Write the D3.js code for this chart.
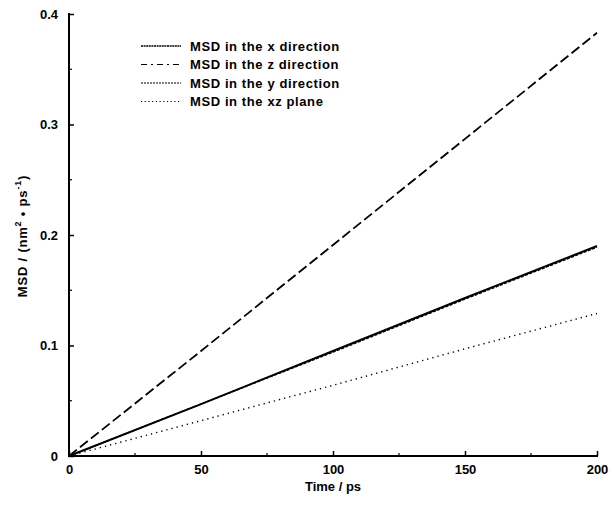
<!DOCTYPE html>
<html><head><meta charset="utf-8">
<script src="https://cdn.jsdelivr.net/npm/d3@7"></script>
<style>body{margin:0;background:#fff;} text{font-family:"Liberation Sans",Arial,sans-serif;font-weight:bold;fill:#000;}</style>
</head><body><svg id="c" width="612" height="507"></svg>
<script>
const times = [0, 50, 100, 150, 200];
const msdX  = [0, 0.047, 0.095, 0.143, 0.190];
const msdZ  = [0, 0.095, 0.191, 0.287, 0.383];
const msdY  = [0, 0.047, 0.094, 0.142, 0.189];
const msdXZ = [0, 0.032, 0.064, 0.097, 0.129];
const seriesNames = ["MSD in the x direction","MSD in the z direction","MSD in the y direction","MSD in the xz plane"];
const xTicks = [0, 50, 100, 150, 200];
const yTicks = [0, 0.1, 0.2, 0.3, 0.4];
const yTickLabels = ["0","0.1","0.2","0.3","0.4"];

const svg = d3.select("#c");
const x = d3.scaleLinear().domain([0,200]).range([69,597]);
const y = d3.scaleLinear().domain([0,0.4]).range([456,14]);

const series = [
  {name: seriesNames[0], vals: msdX, dash: null, w: 2},
  {name: seriesNames[1], vals: msdZ, dash: "10,4", w: 1.8},
  {name: seriesNames[2], vals: msdY, dash: "3,1.5", w: 1.4},
  {name: seriesNames[3], vals: msdXZ, dash: "1.3,4", w: 1.4}
];
const line = d3.line().x(d=>x(d[0])).y(d=>y(d[1]));
series.forEach(s=>{
  svg.append("path").datum(times.map((t,i)=>[t,s.vals[i]]))
    .attr("d", line).attr("fill","none").attr("stroke","#000")
    .attr("stroke-width", s.w).attr("stroke-dasharray", s.dash);
});

// axes
const xAxis = d3.axisBottom(x).tickValues(xTicks).tickSize(-5).tickPadding(9).tickFormat(d3.format("d"));
const gx = svg.append("g").attr("transform","translate(0,456)").call(xAxis);
const yAxis = d3.axisLeft(y).tickValues(yTicks).tickSize(-5).tickPadding(11).tickFormat((d,i)=>yTickLabels[i]);
const gy = svg.append("g").attr("transform","translate(69,0)").call(yAxis);
[gx,gy].forEach(g=>{
  g.select(".domain").attr("stroke","#000").attr("stroke-width",2);
  g.selectAll(".tick line").attr("stroke","#000").attr("stroke-width",1.5);
  g.selectAll("text").style("font-size","13px").style("font-family","'Liberation Sans',Arial,sans-serif").style("font-weight","bold");
});
gx.select(".domain").attr("d","M68,0H598");
gy.select(".domain").attr("d","M0,13V457");
// minor ticks
const gxm = svg.append("g").attr("transform","translate(0,456)");
gxm.selectAll("line").data([25,75,125,175]).join("line")
  .attr("x1",d=>x(d)).attr("x2",d=>x(d)).attr("y1",0).attr("y2",-3).attr("stroke","#000").attr("stroke-width",1.2);
const gym = svg.append("g").attr("transform","translate(69,0)");
gym.selectAll("line").data([0.05,0.15,0.25,0.35]).join("line")
  .attr("y1",d=>y(d)).attr("y2",d=>y(d)).attr("x1",0).attr("x2",3).attr("stroke","#000").attr("stroke-width",1.2);

// axis titles
svg.append("text").attr("x",333).attr("y",491).attr("text-anchor","middle").style("font-size","13px").text("Time / ps");
const yt = svg.append("text").attr("transform","translate(27,236) rotate(-90)").attr("text-anchor","middle")
  .style("font-size","13px").style("letter-spacing","0.8px");
yt.append("tspan").text("MSD / (nm");
yt.append("tspan").attr("dy",-6).style("font-size","9px").text("2");
yt.append("tspan").attr("dy",6).text(" \u2022 ps");
yt.append("tspan").attr("dy",-6).style("font-size","9px").text("-1");
yt.append("tspan").attr("dy",6).text(")");

// legend
const lg = svg.append("g");
series.forEach((s,i)=>{
  const yy = 46 + i*18.5;
  lg.append("line").attr("x1",141).attr("x2",181).attr("y1",yy).attr("y2",yy)
    .attr("stroke","#000").attr("stroke-width", i===0?1.5:1.2)
    .attr("stroke-dasharray", i===1 ? "6,4,2,4" : (i===0 ? "2,0.6" : (i===2 ? "2,1" : "1.2,2.5")));
  lg.append("text").attr("x",190).attr("y",yy+4.5).style("font-size","13px").style("letter-spacing","0.6px").text(s.name);
});
</script></body></html>
